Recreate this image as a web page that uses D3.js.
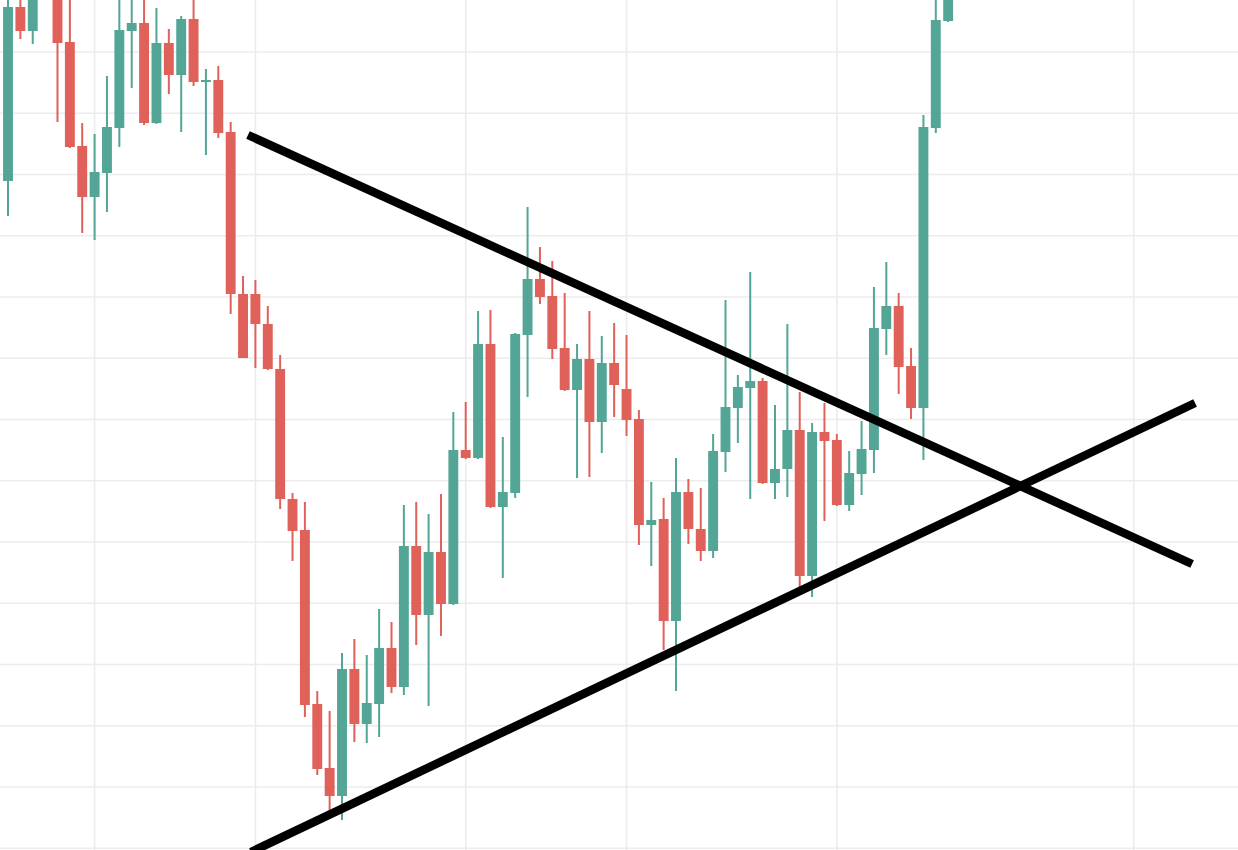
<!DOCTYPE html>
<html>
<head>
<meta charset="utf-8">
<script src="https://cdn.jsdelivr.net/npm/d3@7"></script>
<style>
html,body{margin:0;padding:0;background:#fff;overflow:hidden;}
svg{display:block;}
</style>
</head>
<body>
<div id="chart"></div>
<script>
// Candle sessions (index of each bar)
const sessions = d3.range(0, 77);
// OHLC values
const opens  = [81.9,99.3,96.9,106.0,101.0,95.8,85.4,80.3,82.7,87.2,96.9,97.7,87.7,95.7,92.5,98.1,91.8,92.0,86.8,70.6,
                70.6,67.6,63.1,50.1,47.0,29.6,23.2,20.4,33.1,27.6,29.6,35.2,31.3,45.4,38.5,44.8,39.6,55.0,54.2,65.6,
                49.3,50.7,66.5,72.1,70.4,65.2,61.0,64.1,57.8,63.7,61.1,58.1,47.5,48.1,37.9,50.8,47.1,44.9,54.8,59.2,
                61.2,61.9,51.7,53.1,57.0,42.4,56.8,56.0,49.5,52.6,55.0,67.1,69.4,63.4,59.2,87.2,97.9];
const highs  = [101.0,100.5,101.0,107.0,102.0,100.5,87.7,86.6,92.4,100.5,100.5,100.5,99.2,97.1,98.4,100.5,93.1,93.4,87.8,72.4,
                72.0,69.4,64.5,50.7,49.8,30.9,28.9,34.7,36.1,34.5,39.1,37.8,49.5,49.8,48.6,50.6,58.8,59.8,68.9,69.0,
                56.3,66.7,79.3,75.3,73.9,70.7,65.6,68.9,66.4,67.7,66.5,59.0,51.8,50.2,54.2,52.1,51.2,56.6,70.0,62.5,
                72.8,62.2,59.5,67.6,60.8,57.7,59.7,56.6,54.9,57.9,71.3,73.8,70.7,65.2,88.5,100.5,102.0];
const lows   = [78.4,96.1,95.6,101.2,87.8,85.2,76.7,76.0,78.8,85.3,91.2,87.5,87.6,90.6,86.8,91.4,84.5,86.2,68.6,64.2,
                63.2,63.0,49.1,43.9,28.3,22.5,18.7,18.0,25.8,25.7,26.3,30.7,30.5,35.5,29.4,36.4,39.5,54.1,54.1,49.2,
                42.2,50.2,60.3,69.6,64.1,60.9,52.2,52.3,54.7,58.3,56.4,45.5,43.4,35.0,30.9,45.6,43.9,44.2,52.8,55.7,
                50.1,51.6,50.1,50.3,41.3,40.3,47.9,49.4,48.9,50.5,52.7,64.5,60.6,58.1,54.0,86.7,97.8];
const closes = [99.3,96.9,100.5,101.5,95.7,85.3,80.3,82.8,87.3,97.0,97.7,87.7,95.7,92.5,98.1,91.8,92.0,86.7,70.6,64.2,
                67.6,63.1,50.1,46.9,29.5,23.1,20.4,33.1,27.6,29.7,35.2,31.3,45.4,38.5,44.8,39.6,55.0,54.2,65.6,49.3,
                50.8,66.6,72.1,70.3,65.1,61.0,64.1,57.8,63.7,61.5,58.0,47.5,48.0,37.9,50.8,47.1,44.9,54.9,59.3,61.3,
                61.9,51.7,53.1,57.0,42.4,56.8,55.9,49.5,52.7,55.1,67.2,69.4,63.3,59.2,87.3,98.0,101.0];

// Unlabelled grid positions
const gridSessions = [7, 20, 37, 50, 67, 91];
const gridPrices = [94.8, 88.68, 82.55, 76.43, 70.3, 64.18, 58.05, 51.93, 45.8, 39.68, 33.55, 27.43, 21.3, 15.18];

// Hand-drawn trend lines (session, price) -> (session, price)
const trendStart = [[19.40, 86.5], [19.64, 14.8]];
const trendEnd   = [[95.72, 43.6], [95.96, 59.7]];

const W = 1238, H = 850;
const UP = "#53a596", DOWN = "#e0605a";

const candles = sessions.map((s, i) => ({s, o: opens[i], h: highs[i], l: lows[i], c: closes[i]}));

const x = d3.scaleLinear().domain([-0.647, 99.43]).range([0, W]);
const y = d3.scaleLinear().domain([15, 100]).range([H, 0]);

const svg = d3.select("#chart").append("svg").attr("width", W).attr("height", H);
svg.append("defs").append("clipPath").attr("id", "clip")
  .append("rect").attr("x", 0).attr("y", 0).attr("width", W).attr("height", H);

const g = svg.append("g").attr("clip-path", "url(#clip)");

// grid
g.append("g").selectAll("line").data(gridPrices).join("line")
  .attr("x1", 0).attr("x2", W)
  .attr("y1", d => y(d)).attr("y2", d => y(d))
  .attr("stroke", "#ececec").attr("stroke-width", 1.6);
g.append("g").selectAll("line").data(gridSessions).join("line")
  .attr("y1", 0).attr("y2", H)
  .attr("x1", d => x(d)).attr("x2", d => x(d))
  .attr("stroke", "#ececec").attr("stroke-width", 1.6);

const bodyW = (x(1) - x(0)) * 0.8;

// wicks
g.append("g").selectAll("line").data(candles).join("line")
  .attr("x1", d => x(d.s)).attr("x2", d => x(d.s))
  .attr("y1", d => y(d.h)).attr("y2", d => y(d.l))
  .attr("stroke", d => d.c >= d.o ? UP : DOWN)
  .attr("stroke-width", 2);

// bodies
g.append("g").selectAll("rect").data(candles).join("rect")
  .attr("x", d => x(d.s) - bodyW / 2)
  .attr("width", bodyW)
  .attr("y", d => y(Math.max(d.o, d.c)))
  .attr("height", d => Math.max(2, Math.abs(y(d.o) - y(d.c))))
  .attr("fill", d => d.c >= d.o ? UP : DOWN);

// trend lines
const lines = trendStart.map((p, i) => ({a: p, b: trendEnd[i]}));
g.append("g").selectAll("line").data(lines).join("line")
  .attr("x1", d => x(d.a[0])).attr("y1", d => y(d.a[1]))
  .attr("x2", d => x(d.b[0])).attr("y2", d => y(d.b[1]))
  .attr("stroke", "#000").attr("stroke-width", 8.5)
  .attr("stroke-linecap", "butt");
</script>
</body>
</html>
